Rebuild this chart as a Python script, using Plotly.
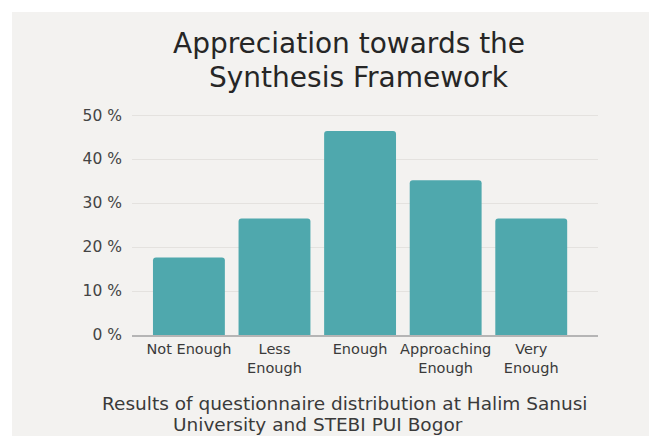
import plotly.graph_objects as go

categories = ["Not Enough", "Less<br>Enough", "Enough", "Approaching<br>Enough", "Very<br>Enough"]
values = [17.6, 26.5, 46.4, 35.2, 26.5]
title_lines = ["Appreciation towards the", "Synthesis Framework"]
caption_lines = ["Results of questionnaire distribution at Halim Sanusi", "University and STEBI PUI Bogor"]

W, H = 649, 436
L, R, T, B = 132, 51, 112, 101
pw, ph = W - L - R, H - T - B

def px(x):
    return (x - L) / pw

def py(y):
    return (H - B - y) / ph

FONT = "'DejaVu Sans', 'Open Sans', sans-serif"
BG = "#f3f2f0"

fig = go.Figure(go.Bar(
    x=list(range(len(categories))),
    y=values,
    marker=dict(color="#4fa8ad", cornerradius=3, line=dict(width=0)),
    width=0.84,
    hoverinfo="skip",
))

fig.update_layout(
    width=W, height=H,
    margin=dict(l=L, r=R, t=T, b=B),
    paper_bgcolor="white",
    plot_bgcolor="rgba(0,0,0,0)",
    showlegend=False,
    font=dict(family=FONT, color="#444444"),
    xaxis=dict(
        tickmode="array", tickvals=list(range(len(categories))), ticktext=categories,
        range=[-0.665, 4.78], showgrid=False, zeroline=False,
        showline=True, linecolor="#b5b5b5", linewidth=1.5,
        tickfont=dict(size=14.5, color="#3a3a3a", family=FONT), ticks="",
    ),
    yaxis=dict(
        range=[0, 50.7], dtick=10, ticksuffix=" %",
        showgrid=True, gridcolor="#e4e2df", gridwidth=1, zeroline=False,
        showline=False, ticks="", ticklabelstandoff=9,
        tickfont=dict(size=15.5, color="#444444", family=FONT),
    ),
    shapes=[dict(
        type="rect", xref="paper", yref="paper", layer="below",
        x0=px(12), x1=px(W + 5), y0=py(H + 5), y1=py(12),
        fillcolor=BG, line=dict(width=0),
    )],
    annotations=[
        dict(text=title_lines[0], x=px(349), y=py(43), xref="paper", yref="paper",
             showarrow=False, xanchor="center", yanchor="middle",
             font=dict(size=28, color="#262626", family=FONT)),
        dict(text=title_lines[1], x=px(359), y=py(77), xref="paper", yref="paper",
             showarrow=False, xanchor="center", yanchor="middle",
             font=dict(size=28, color="#262626", family=FONT)),
        dict(text=caption_lines[0], x=px(345), y=py(403), xref="paper", yref="paper",
             showarrow=False, xanchor="center", yanchor="middle",
             font=dict(size=18.5, color="#3a3a3a", family=FONT)),
        dict(text=caption_lines[1], x=px(318), y=py(424), xref="paper", yref="paper",
             showarrow=False, xanchor="center", yanchor="middle",
             font=dict(size=18.5, color="#3a3a3a", family=FONT)),
    ],
)

fig.write_html("out.html")
